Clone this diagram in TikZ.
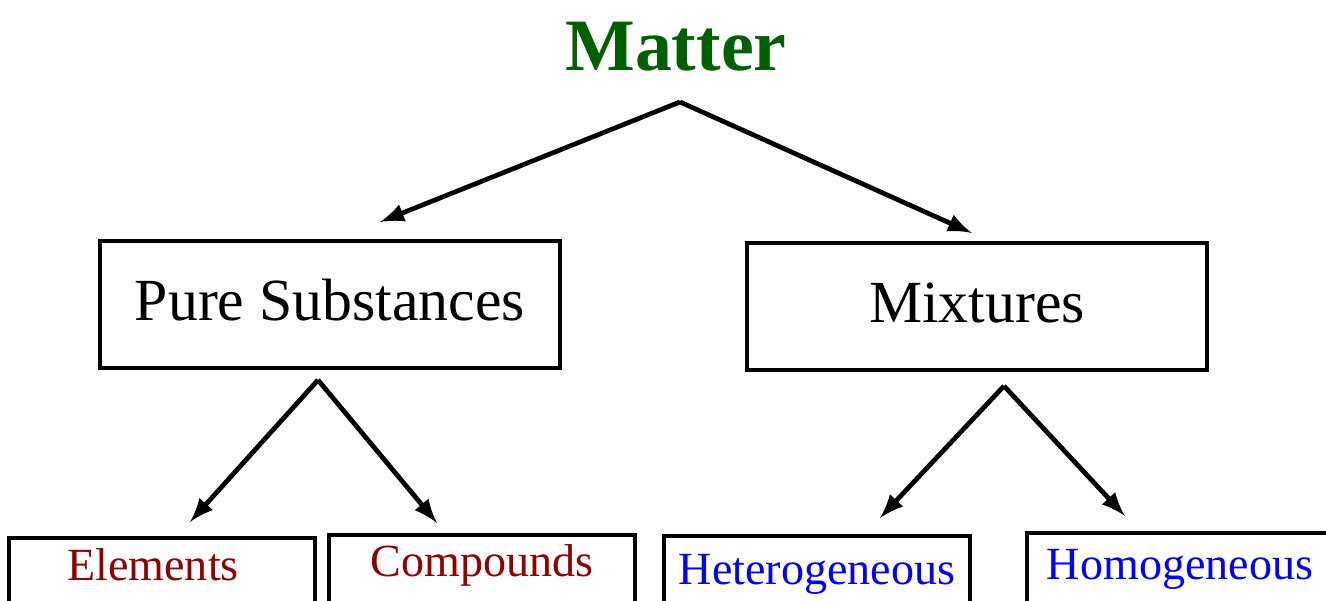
\documentclass[tikz,border=0pt]{standalone}
\usepackage{fontspec}
\setmainfont{Liberation Serif}
\definecolor{mattergreen}{RGB}{0,96,0}
\definecolor{leafred}{RGB}{145,0,0}
\definecolor{leafblue}{RGB}{0,0,255}
\tikzset{
  midbox/.style={draw,line width=1pt,inner sep=0pt,minimum width=4.6cm,
    text height=.8cm,text depth=.47cm,anchor=base,font=\fontsize{17}{20}\selectfont},
  leafbox/.style={draw,line width=1pt,inner sep=0pt,minimum width=3.06cm,
    text height=.43cm,text depth=.6cm,anchor=base,font=\fontsize{13.1}{16}\selectfont},
  branch/.style={->,line width=1.35pt}
}
\begin{document}
\begin{tikzpicture}[x=.01cm,y=-.01cm,>=latex]
 \useasboundingbox (0,0) rectangle (1326,601);
 \clip (0,0) rectangle (1326,601);
 \node[anchor=base,text=mattergreen,font=\fontsize{21}{25}\selectfont\bfseries] (matter) at (676,71) {Matter};
 \node[midbox] (pure) at (330,321) {Pure Substances};
 \node[midbox] (mix) at (977,323) {Mixtures};
 \node[leafbox,text=leafred] (elem) at (162,581) {Elements\kern.18cm};
 \node[leafbox,text=leafred,text height=.42cm] (comp) at (482,577) {Compounds};
 \node[leafbox,text=leafblue,text height=.49cm] (het) at (817,585) {Heterogeneous};
 \node[leafbox,text=leafblue,text height=.47cm] (hom) at (1180,580) {Homogeneous};
 % arrow ends
 \coordinate (mattertip) at (680,102);
 \coordinate (puretop) at (380,222);
 \coordinate (mixtop) at (972,233);
 \coordinate (purefoot) at (318,380);
 \coordinate (elemtop) at (190,522);
 \coordinate (comptop) at (437,523);
 \coordinate (mixfoot) at (1004,386);
 \coordinate (hettop) at (880,518);
 \coordinate (homtop) at (1125,516);
 \draw[branch] (mattertip)--(puretop);
 \draw[branch] (mattertip)--(mixtop);
 \draw[branch] (purefoot)--(elemtop);
 \draw[branch] (purefoot)--(comptop);
 \draw[branch] (mixfoot)--(hettop);
 \draw[branch] (mixfoot)--(homtop);
\end{tikzpicture}
\end{document}
